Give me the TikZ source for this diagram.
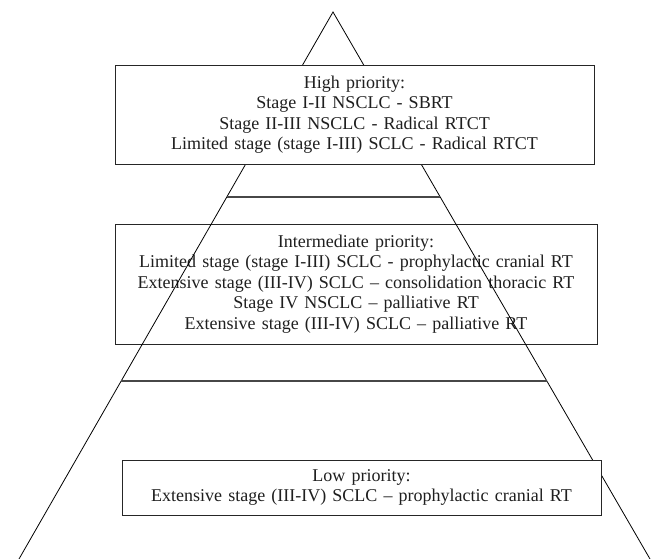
\documentclass[tikz,border=0pt]{standalone}
\usepackage{fontspec}
\setmainfont{Liberation Serif}
\usetikzlibrary{calc}
\newcommand\priofont{\fontsize{18}{20.5}\selectfont\spaceskip 0.34em plus 0.1em\relax}
\begin{document}
\begin{tikzpicture}[x=1pt,y=-1pt,
  side/.style={line width=0.8pt,black},
  tier/.style={line width=1.2pt,black!72},
  prio/.style={draw=black!85,line width=0.9pt,inner sep=0pt,align=center,text=black!88,
    font=\priofont},
  whitebox/.style={prio,fill=white}]
\useasboundingbox (0,0) rectangle (657,559);
\coordinate (apex) at (333,12);
\coordinate (bl) at (19,559);
\coordinate (br) at (650,559);
% intermediate box (transparent, sides drawn over it)
\node[prio,minimum width=482pt,minimum height=120pt] (mid) at (356,284)
  {Intermediate priority:\\
   Limited stage (stage I-III) SCLC - prophylactic cranial RT\\
   Extensive stage (III-IV) SCLC – consolidation thoracic RT\\
   Stage IV NSCLC – palliative RT\\
   Extensive stage (III-IV) SCLC – palliative RT};
% pyramid
\draw[side] (bl) -- (apex) -- (br);
\coordinate (l1a) at ($(apex)!0.3382!(bl)$);
\coordinate (l1b) at ($(apex)!0.3382!(br)$);
\coordinate (l2a) at ($(apex)!0.6746!(bl)$);
\coordinate (l2b) at ($(apex)!0.6746!(br)$);
\draw[tier] (l1a) -- (l1b);
\draw[tier] (l2a) -- (l2b);
% boxes covering the pyramid
\node[whitebox,minimum width=479pt,minimum height=99pt] (high) at (354.5,114.5)
  {High priority:\\
   Stage I-II NSCLC - SBRT\\
   Stage II-III NSCLC - Radical RTCT\\
   Limited stage (stage I-III) SCLC - Radical RTCT};
\node[whitebox,minimum width=479pt,minimum height=55pt] (low) at (361.5,487.5)
  {Low priority:\\
   Extensive stage (III-IV) SCLC – prophylactic cranial RT};
\end{tikzpicture}
\end{document}
